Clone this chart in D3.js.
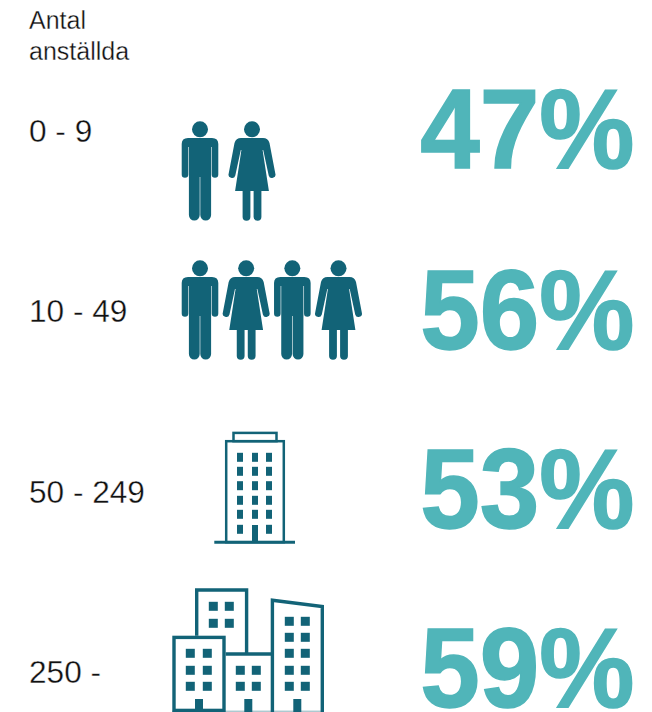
<!DOCTYPE html>
<html>
<head>
<meta charset="utf-8">
<script src="https://d3js.org/d3.v7.min.js"></script>
<style>
  html, body { margin: 0; padding: 0; background: #fff; }
  svg { display: block; }
  text { font-family: "Liberation Sans", Arial, sans-serif; }
</style>
</head>
<body>
<div id="chart"></div>
<script>
const titleLines = ['Antal', 'anställda'];
const categories = ['0 - 9', '10 - 49', '50 - 249', '250 -'];
const percentages = [47, 56, 53, 59];
const peopleRows = [
  ['man', 'woman'],
  ['man', 'woman', 'man', 'woman'],
];

const width = 652;
const height = 712;
const darkTeal = '#126377';
const lightTeal = '#50b5b9';

const svg = d3.select('#chart').append('svg').attr('width', width).attr('height', height);

const labelY = d3.scalePoint().domain(categories).range([142, 683]);
const percentY = d3.scaleOrdinal().domain(categories).range([168, 349, 528, 707]);

// title
svg.append('g')
  .selectAll('text')
  .data(titleLines)
  .join('text')
  .attr('x', 29)
  .attr('y', (d, i) => 29 + i * 31)
  .attr('font-size', 25)
  .attr('fill', '#111')
  .attr('stroke', '#fff')
  .attr('stroke-width', 0.3)
  .text(d => d);

// row labels
svg.append('g')
  .selectAll('text')
  .data(categories)
  .join('text')
  .attr('x', 29)
  .attr('y', d => labelY(d))
  .attr('font-size', 31.6)
  .attr('fill', '#111')
  .attr('stroke', '#fff')
  .attr('stroke-width', 0.35)
  .text(d => d);

// percentages, the original figures are a little taller than the font
svg.append('g')
  .selectAll('text')
  .data(percentages)
  .join('text')
  .attr('transform', (d, i) => `translate(634.5,${percentY(categories[i])}) scale(1,1.05)`)
  .attr('text-anchor', 'end')
  .attr('font-size', 107)
  .attr('font-weight', 700)
  .attr('fill', lightTeal)
  .attr('stroke', lightTeal)
  .attr('stroke-width', 1.5)
  .text(d => `${d}%`);

// pictograms, origin at top of head, centre of body
const manPath = 'M-18.3,23Q-18.3,17-12,17L12,17Q18.3,17 18.3,23L18.3,53.5A3.3,3.3 0 0 1 11.7,53.5L11.7,26L11.1,26'
  + 'L11.1,94A5.3,5.5 0 0 1 0.3,94L0.3,56L-0.3,56L-0.3,94A5.3,5.5 0 0 1-11.1,94L-11.1,26L-11.7,26L-11.7,53.5A3.3,3.3 0 0 1-18.3,53.5Z';
const womanPath = 'M-17.5,22Q-16,17-11,17L11,17Q16,17 17.5,22L23.3,52.5A3.3,3.3 0 0 1 16.7,54.5L11.2,29L10.6,29L16.9,70L9.4,70'
  + 'L9.4,96A3.9,3.7 0 0 1 1.6,96L1.6,70L-1.6,70L-1.6,96A3.9,3.7 0 0 1-9.4,96L-9.4,70L-16.9,70L-10.6,29L-11.2,29L-16.7,54.5A3.3,3.3 0 0 1-23.3,52.5Z';
const personPaths = { man: manPath, woman: womanPath };

const peopleTop = [121, 260];
const peopleX = [
  d3.scalePoint().domain(d3.range(2)).range([200, 252]),
  d3.scalePoint().domain(d3.range(4)).range([200, 338.5]),
];

peopleRows.forEach((row, r) => {
  const g = svg.append('g')
    .selectAll('g')
    .data(row)
    .join('g')
    .attr('transform', (d, i) => `translate(${peopleX[r](i)},${peopleTop[r]})`)
    .attr('fill', darkTeal);
  g.append('circle').attr('cy', 8.3).attr('r', 8);
  g.append('path').attr('d', d => personPaths[d]);
});

// tower icon
const tower = svg.append('g').attr('fill', 'none').attr('stroke', darkTeal);
tower.append('rect').attr('x', 226.2).attr('y', 441.2).attr('width', 57.6).attr('height', 101).attr('stroke-width', 2.5);
tower.append('rect').attr('x', 233.5).attr('y', 432.9).attr('width', 43).attr('height', 8.3).attr('stroke-width', 2.5);
tower.append('line').attr('x1', 214.3).attr('x2', 295).attr('y1', 542.3).attr('y2', 542.3).attr('stroke-width', 3);

const towerCols = [240, 255, 269];
const towerRows = [457.3, 471.3, 485.7, 500.3, 514.3, 529.3];
const towerWindows = d3.cross(towerCols, towerRows).filter(([c, r]) => !(c === 255 && r === 529.3));
svg.append('g')
  .attr('fill', darkTeal)
  .selectAll('rect')
  .data(towerWindows)
  .join('rect')
  .attr('x', d => d[0] - 3)
  .attr('y', d => d[1] - 4.5)
  .attr('width', 6)
  .attr('height', 9);
svg.append('rect').attr('x', 252).attr('y', 525).attr('width', 6).attr('height', 18).attr('fill', darkTeal);

// office block icon
const blocks = svg.append('g').attr('fill', 'none').attr('stroke', darkTeal).attr('stroke-width', 3.4);
blocks.append('path').attr('d', 'M196.7,635.7V590H246.6V654');
blocks.append('rect').attr('x', 174).attr('y', 637.4).attr('width', 50).attr('height', 73);
blocks.append('path').attr('d', 'M225.7,654H272');
blocks.append('path').attr('d', 'M272.4,712V600.2L322.3,606.6V712');
blocks.append('path').attr('d', 'M172,711.2H324').attr('stroke-width', 1).attr('opacity', 0.5);

const officeWindows = [
  ...d3.cross([213.3, 229.3], [606.3, 623.3]),
  ...d3.cross([190.3, 207.3], [653.3, 670.3, 686.3]),
  ...d3.cross([240.3, 256.3], [670.3, 686.3]),
  ...d3.cross([289.3, 305.3], [621.3, 637.3, 653.3, 670.3, 686.3]),
];
svg.append('g')
  .attr('fill', darkTeal)
  .selectAll('rect')
  .data(officeWindows)
  .join('rect')
  .attr('x', d => d[0] - 4.5)
  .attr('y', d => d[1] - 4.5)
  .attr('width', 9)
  .attr('height', 9);

const doorCentres = [199, 248.3, 297.3];
svg.append('g')
  .attr('fill', darkTeal)
  .selectAll('rect')
  .data(doorCentres)
  .join('rect')
  .attr('x', d => d - 4)
  .attr('y', 699)
  .attr('width', 8)
  .attr('height', 13);
</script>
</body>
</html>
